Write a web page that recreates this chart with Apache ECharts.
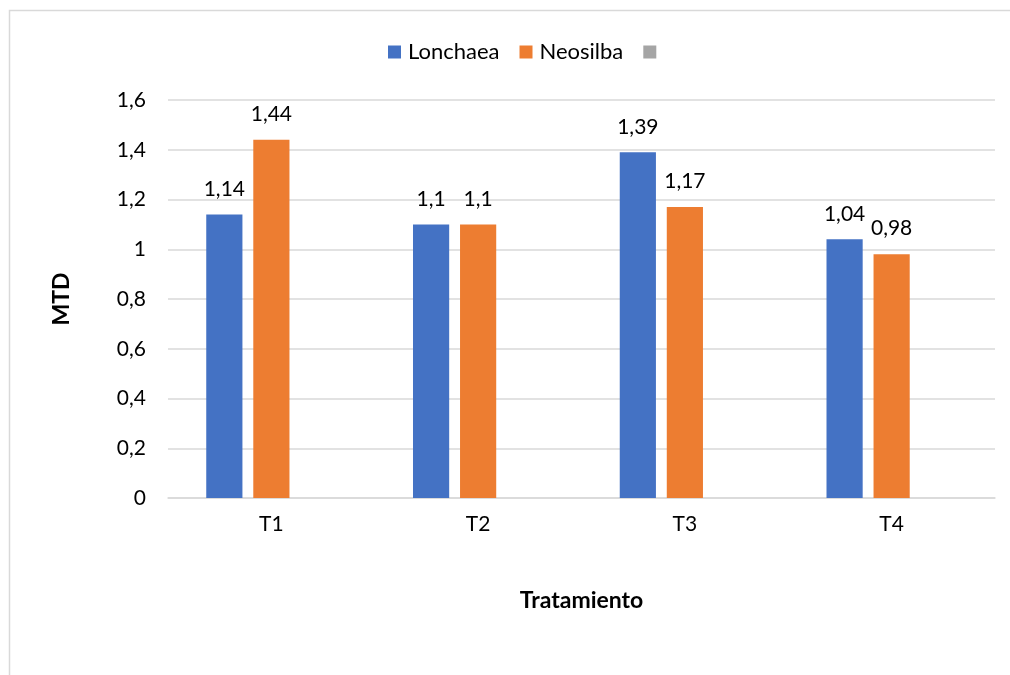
<!DOCTYPE html>
<html><head><meta charset="utf-8">
<script src="https://cdn.jsdelivr.net/npm/echarts@6/dist/echarts.min.js"></script>
<style>html,body{margin:0;padding:0;background:#fff}#c{width:1010px;height:675px}</style>
</head><body><div id="c"></div>
<script>
const categories = ['T1','T2','T3','T4'];
const lonchaea = [1.14, 1.1, 1.39, 1.04];
const neosilba = [1.44, 1.1, 1.17, 0.98];
const third = [null, null, null, null];
const yTicks = [0, 0.2, 0.4, 0.6, 0.8, 1, 1.2, 1.4, 1.6];

const font = 'Lato, "Open Sans", sans-serif';
const fmt = v => String(v).replace('.', ',');
const chart = echarts.init(document.getElementById('c'), null, {renderer:'canvas'});
const lbl = {show:true, position:'top', distance:15, color:'#000', fontSize:21, fontFamily:font, formatter:p=>fmt(p.value)};
chart.setOption({
  backgroundColor:'#fff',
  animation:false,
  graphic:[{type:'rect', shape:{x:9.5,y:10.5,width:1100,height:700}, style:{fill:'none', stroke:'#d9d9d9', lineWidth:1.5}, silent:true}],
  legend:{top:36, left:383, itemWidth:13, itemHeight:13, itemGap:20, icon:'rect',
    textStyle:{fontSize:22, fontFamily:font, color:'#000', padding:[0,0,0,2]},
    data:['Lonchaea','Neosilba',' ']},
  grid:{left:168, right:15, top:100, bottom:177, containLabel:false},
  xAxis:{type:'category', data:categories,
    axisLine:{lineStyle:{color:'#d9d9d9', width:1.5}}, axisTick:{show:false},
    axisLabel:{color:'#000', fontSize:21, fontFamily:font, margin:16},
    name:'Tratamiento', nameLocation:'middle', nameGap:91,
    nameTextStyle:{fontSize:23, fontWeight:'bold', fontFamily:font, color:'#000'}},
  yAxis:{type:'value', min:0, max:1.6, interval:0.2,
    axisLabel:{color:'#000', fontSize:21, fontFamily:font, margin:22, formatter:v=>fmt(Math.round(v*10)/10)},
    splitLine:{lineStyle:{color:'#d9d9d9', width:1.5}},
    axisLine:{show:false}, axisTick:{show:false},
    name:'MTD', nameLocation:'middle', nameGap:95, nameRotate:90,
    nameTextStyle:{fontSize:23, fontWeight:'bold', fontFamily:font, color:'#000'}},
  series:[
    {name:'Lonchaea', type:'bar', data:lonchaea, itemStyle:{color:'#4472C4'}, barGap:'30%', barCategoryGap:'37%', label:lbl},
    {name:'Neosilba', type:'bar', data:neosilba, itemStyle:{color:'#ED7D31'}, label:lbl},
    {name:' ', type:'bar', data:third, itemStyle:{color:'#A5A5A5'}}
  ]
});
</script></body></html>
